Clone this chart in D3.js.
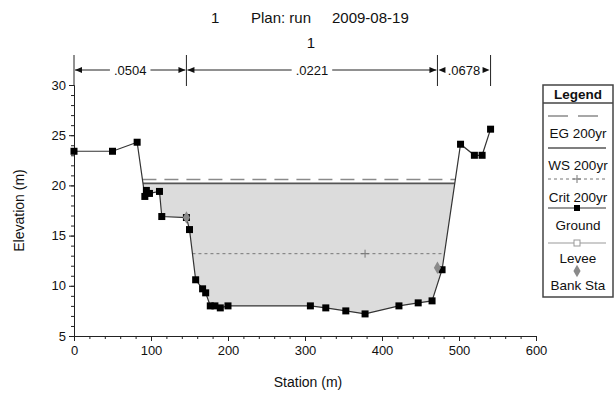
<!DOCTYPE html>
<html>
<head>
<meta charset="utf-8">
<script src="https://cdn.jsdelivr.net/npm/d3@7"></script>
<style>
  body { margin: 0; background: #fff; }
  svg text { font-family: 'Liberation Sans', Arial, sans-serif; fill: #111; }
</style>
</head>
<body>
<svg width="616" height="394"></svg>
<script>
// ground survey points (station m, elevation m)
const stations   = [0, 50, 82, 92, 94, 98, 111, 114, 146, 150, 158, 167, 171, 177, 183, 190, 200, 307, 327, 353, 378, 422, 447, 465, 478, 502, 520, 530, 541];
const elevations = [23.4, 23.4, 24.3, 18.9, 19.5, 19.2, 19.4, 16.9, 16.8, 15.6, 10.6, 9.7, 9.3, 8.0, 8.0, 7.8, 8.0, 8.0, 7.8, 7.5, 7.2, 8.0, 8.3, 8.5, 11.6, 24.1, 23.0, 23.0, 25.6];

// bank stations
const bankStations = [146, 472];
const bankElevs = [16.8, 11.8];

// manning n regions
const nBreaks = [0, 146, 472, 541];
const nLabels = ['.0504', '.0221', '.0678'];

// water surface profiles
const egElev = [20.6];
const wsElev = [20.2];
const critElev = [13.2];
const critMarkStation = [378];

const legendNames = ['EG 200yr', 'WS 200yr', 'Crit 200yr', 'Ground', 'Levee', 'Bank Sta'];

const svg = d3.select('svg');

const x = d3.scaleLinear().domain([0, 600]).range([74, 536]);
const y = d3.scaleLinear().domain([5, 30]).range([336, 85]);

const ground = stations.map((s, i) => [s, elevations[i]]);

// where the ground crosses a level
function crossings(level) {
  const out = [];
  for (let i = 1; i < ground.length; i++) {
    const [s0, e0] = ground[i - 1], [s1, e1] = ground[i];
    if ((e0 - level) * (e1 - level) < 0) {
      out.push({ s: s0 + (level - e0) / (e1 - e0) * (s1 - s0), i: i });
    }
  }
  return out;
}

// title
const title = svg.append('g').style('font-size', '15px');
title.append('text').attr('x', 211).attr('y', 23).text('1');
title.append('text').attr('x', 251).attr('y', 23).text('Plan: run');
title.append('text').attr('x', 332).attr('y', 23).text('2009-08-19');
svg.append('text').attr('x', 311).attr('y', 48).attr('text-anchor', 'middle')
  .style('font-size', '15px').text('1');

// water fill
const wsX = crossings(wsElev[0]);
const wl = wsX[0], wr = wsX[wsX.length - 1];
const poly = [[wl.s, wsElev[0]]]
  .concat(ground.slice(wl.i, wr.i))
  .concat([[wr.s, wsElev[0]]]);
svg.append('path')
  .attr('d', d3.line().x(d => x(d[0])).y(d => y(d[1]))(poly) + 'Z')
  .attr('fill', '#dcdcdc');

// axes
svg.append('g').attr('transform', `translate(0,${y(5)})`)
  .call(d3.axisBottom(x).tickValues(d3.range(0, 601, 100)).tickSize(5).tickPadding(5));
svg.append('g').attr('transform', `translate(0,${y(5)})`)
  .call(d3.axisBottom(x).tickValues(d3.range(0, 601, 20)).tickSize(3).tickFormat(''))
  .select('.domain').remove();
svg.append('g').attr('transform', `translate(${x(0)},0)`)
  .call(d3.axisLeft(y).tickValues(d3.range(5, 31, 5)).tickSize(5).tickPadding(3));
svg.append('g').attr('transform', `translate(${x(0)},0)`)
  .call(d3.axisLeft(y).tickValues(d3.range(5, 31, 1)).tickSize(3).tickFormat(''))
  .select('.domain').remove();
svg.selectAll('.tick text').style('font-size', '13px').attr('fill', '#111');
svg.selectAll('.domain, .tick line').attr('stroke', '#222');

svg.append('text').attr('x', 308).attr('y', 387).attr('text-anchor', 'middle')
  .style('font-size', '14px').text('Station (m)');
svg.append('text').attr('transform', `translate(24,${(y(5) + y(30)) / 2}) rotate(-90)`)
  .attr('text-anchor', 'middle').style('font-size', '14px').text('Elevation (m)');

// manning n bars
const barY = 70;
const arrow = (xt, dir) => `M${xt},${barY}L${xt + dir * 7},${barY - 3}L${xt + dir * 7},${barY + 3}Z`;
nBreaks.forEach(s => {
  svg.append('line').attr('x1', x(s)).attr('x2', x(s)).attr('y1', 55).attr('y2', 86)
    .attr('stroke', '#222');
});
nLabels.forEach((lab, i) => {
  const x0 = x(nBreaks[i]) + 1, x1 = x(nBreaks[i + 1]) - 1, xc = (x0 + x1) / 2;
  const t = svg.append('text').attr('x', xc).attr('y', barY + 5).attr('text-anchor', 'middle')
    .style('font-size', '13px').text(lab);
  const w = t.node().getComputedTextLength() / 2 + 4;
  if (xc - w > x0 + 7) {
    svg.append('line').attr('x1', x0).attr('x2', xc - w).attr('y1', barY).attr('y2', barY).attr('stroke', '#222');
    svg.append('line').attr('x1', xc + w).attr('x2', x1).attr('y1', barY).attr('y2', barY).attr('stroke', '#222');
  }
  svg.append('path').attr('d', arrow(x0, 1)).attr('fill', '#111');
  svg.append('path').attr('d', arrow(x1, -1)).attr('fill', '#111');
});

// EG line
const egX = crossings(egElev[0]);
svg.append('line')
  .attr('x1', x(egX[0].s)).attr('x2', x(egX[egX.length - 1].s))
  .attr('y1', y(egElev[0])).attr('y2', y(egElev[0]))
  .attr('stroke', '#8a8a8a').attr('stroke-width', 1.5).attr('stroke-dasharray', '14,8');

// WS line
svg.append('line')
  .attr('x1', x(wl.s)).attr('x2', x(wr.s))
  .attr('y1', y(wsElev[0])).attr('y2', y(wsElev[0]))
  .attr('stroke', '#555').attr('stroke-width', 1.6);

// crit line
const cX = crossings(critElev[0]);
svg.append('line')
  .attr('x1', x(cX[0].s)).attr('x2', x(cX[cX.length - 1].s))
  .attr('y1', y(critElev[0])).attr('y2', y(critElev[0]))
  .attr('stroke', '#777').attr('stroke-width', 1).attr('stroke-dasharray', '3,3');
critMarkStation.forEach(s => {
  svg.append('path')
    .attr('d', `M${x(s) - 4},${y(critElev[0])}h8M${x(s)},${y(critElev[0]) - 4}v8`)
    .attr('stroke', '#777');
});

// ground
svg.append('path')
  .attr('d', d3.line().x(d => x(d[0])).y(d => y(d[1]))(ground))
  .attr('fill', 'none').attr('stroke', '#333').attr('stroke-width', 1.2);
svg.append('g').selectAll('rect').data(ground).enter().append('rect')
  .attr('x', d => x(d[0]) - 3.5).attr('y', d => y(d[1]) - 3.5)
  .attr('width', 7).attr('height', 7).attr('fill', '#000');

// bank stations
const diamond = d3.symbol().type(d3.symbolDiamond).size(44);
svg.append('g').selectAll('path').data(bankStations).enter().append('path')
  .attr('d', diamond)
  .attr('transform', (d, i) => `translate(${x(d)},${y(bankElevs[i])})`)
  .attr('fill', '#8a8a8a');

// legend
const lg = svg.append('g');
lg.append('rect').attr('x', 543).attr('y', 85).attr('width', 70).attr('height', 212)
  .attr('fill', '#fff').attr('stroke', '#444').attr('stroke-width', 1.5);
lg.append('line').attr('x1', 543).attr('x2', 613).attr('y1', 103).attr('y2', 103)
  .attr('stroke', '#444').attr('stroke-width', 1.5);
lg.append('text').attr('x', 578).attr('y', 99).attr('text-anchor', 'middle')
  .style('font-size', '13.5px').style('font-weight', 'bold').text('Legend');

const symY = [116, 148, 179, 208, 243, 271];
const txtY = [138, 170, 202, 230, 263, 290];
const lx0 = 548, lx1 = 606, lxc = 577;
legendNames.forEach((n, i) => {
  lg.append('text').attr('x', lxc + 1).attr('y', txtY[i]).attr('text-anchor', 'middle')
    .style('font-size', '13.5px').text(n);
});
lg.append('line').attr('x1', lx0).attr('x2', lx1).attr('y1', symY[0]).attr('y2', symY[0])
  .attr('stroke', '#8a8a8a').attr('stroke-width', 1.5).attr('stroke-dasharray', '20,10');
lg.append('line').attr('x1', lx0).attr('x2', lx1).attr('y1', symY[1]).attr('y2', symY[1])
  .attr('stroke', '#555').attr('stroke-width', 1.5);
lg.append('line').attr('x1', lx0).attr('x2', lx1).attr('y1', symY[2]).attr('y2', symY[2])
  .attr('stroke', '#777').attr('stroke-dasharray', '3,3');
lg.append('path').attr('d', `M${lxc - 4},${symY[2]}h8M${lxc},${symY[2] - 4}v8`).attr('stroke', '#777');
lg.append('line').attr('x1', lx0).attr('x2', lx1).attr('y1', symY[3]).attr('y2', symY[3])
  .attr('stroke', '#333').attr('stroke-width', 1.2);
lg.append('rect').attr('x', lxc - 3).attr('y', symY[3] - 3).attr('width', 6).attr('height', 6).attr('fill', '#000');
lg.append('line').attr('x1', lx0).attr('x2', lx1).attr('y1', symY[4]).attr('y2', symY[4])
  .attr('stroke', '#999');
lg.append('rect').attr('x', lxc - 3).attr('y', symY[4] - 3).attr('width', 6).attr('height', 6)
  .attr('fill', '#fff').attr('stroke', '#999');
lg.append('path').attr('d', diamond).attr('transform', `translate(${lxc},${symY[5]})`).attr('fill', '#8a8a8a');
</script>
</body>
</html>
